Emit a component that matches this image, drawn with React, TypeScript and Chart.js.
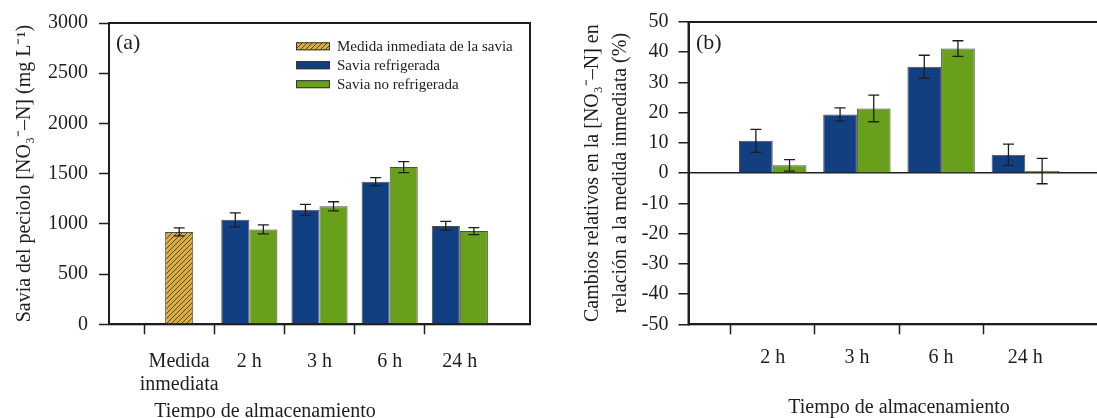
import React, { useEffect, useRef } from 'react';
import { Chart, registerables } from 'chart.js';

Chart.register(...registerables);

// ---------- Data: panel (a) ----------
const categoriesA: (string | string[])[] = [['Medida', 'inmediata'], '2 h', '3 h', '6 h', '24 h'];
const immediateValue = [920];
const immediateErr = [40];
const refrigerated = [1040, 1140, 1420, 980];
const refrigeratedErr = [70, 55, 40, 45];
const nonRefrigerated = [945, 1175, 1565, 928];
const nonRefrigeratedErr = [45, 45, 55, 35];
const yTicksA = [0, 500, 1000, 1500, 2000, 2500, 3000];

// ---------- Data: panel (b) ----------
const categoriesB = ['2 h', '3 h', '6 h', '24 h'];
const changeRefrigerated = [10.7, 19.4, 35.2, 6.1];
const changeRefrigeratedErr = [3.8, 2.2, 3.8, 3.5];
const changeNonRefrigerated = [2.6, 21.4, 41.2, 0.7];
const changeNonRefrigeratedErr = [1.9, 4.4, 2.6, 4.2];
const yTicksB = [-50, -40, -30, -20, -10, 0, 10, 20, 30, 40, 50];

const legendLabels = ['Medida inmediata de la savia', 'Savia refrigerada', 'Savia no refrigerada'];
const xTitle = 'Tiempo de almacenamiento';
const yTitleA = 'Savia del peciolo [NO\u2083\u207B\u2013N] (mg L\u207B\u00B9)';
const yTitleB = ['Cambios relativos en la [NO\u2083\u207B\u2013N] en', 'relación a la medida inmediata (%)'];

// ---------- Styles ----------
const FONT = '"Liberation Serif", "Times New Roman", serif';
const INK = '#1e1e1e';
const BLUE = '#113f82';
const GREEN = '#68a01c';
const GOLD = '#d8ae42';
const BAR_BORDER = '#4d4d4d';

Chart.defaults.font.family = FONT;
Chart.defaults.color = INK;

function makeHatch(): CanvasPattern | string {
  const c = document.createElement('canvas');
  const s = 5;
  c.width = s;
  c.height = s;
  const g = c.getContext('2d');
  if (!g) return GOLD;
  g.fillStyle = GOLD;
  g.fillRect(0, 0, s, s);
  g.strokeStyle = '#5b4716';
  g.lineWidth = 1;
  g.beginPath();
  g.moveTo(-1, s + 1);
  g.lineTo(s + 1, -1);
  g.moveTo(-1, 1);
  g.lineTo(1, -1);
  g.moveTo(s - 1, s + 1);
  g.lineTo(s + 1, s - 1);
  g.stroke();
  const p = g.createPattern(c, 'repeat');
  return p || GOLD;
}

const pad = <T,>(arr: T[], before: number, total: number): (T | null)[] => {
  const out: (T | null)[] = [];
  for (let i = 0; i < total; i++) {
    const k = i - before;
    out.push(k >= 0 && k < arr.length ? arr[k] : null);
  }
  return out;
};

const plainTick = (v: any) => String(v);

const errorBarsPlugin = {
  id: 'errorBars',
  afterDatasetsDraw(chart: any) {
    const ctx = chart.ctx;
    const yScale = chart.scales.y;
    chart.data.datasets.forEach((ds: any, di: number) => {
      const meta = chart.getDatasetMeta(di);
      meta.data.forEach((el: any, i: number) => {
        const v = ds.data[i];
        const e = ds.errors ? ds.errors[i] : null;
        if (v == null || e == null) return;
        const x = el.x;
        const yt = yScale.getPixelForValue(v + e);
        const yb = yScale.getPixelForValue(v - e);
        ctx.save();
        ctx.strokeStyle = INK;
        ctx.lineWidth = 1.3;
        ctx.beginPath();
        ctx.moveTo(x, yt);
        ctx.lineTo(x, yb);
        ctx.moveTo(x - 5.5, yt);
        ctx.lineTo(x + 5.5, yt);
        ctx.moveTo(x - 5.5, yb);
        ctx.lineTo(x + 5.5, yb);
        ctx.stroke();
        ctx.restore();
      });
    });
  },
};

const framePlugin = {
  id: 'frame',
  afterDraw(chart: any) {
    const { ctx, chartArea } = chart;
    ctx.save();
    ctx.strokeStyle = INK;
    ctx.lineWidth = 2;
    ctx.strokeRect(chartArea.left, chartArea.top, chartArea.right - chartArea.left, chartArea.bottom - chartArea.top);
    ctx.restore();
  },
};

const panelLabel = (text: string, dx: number, dy: number) => ({
  id: 'panelLabel',
  afterDraw(chart: any) {
    const { ctx, chartArea } = chart;
    ctx.save();
    ctx.font = `22px ${FONT}`;
    ctx.fillStyle = INK;
    ctx.textAlign = 'left';
    ctx.textBaseline = 'middle';
    ctx.fillText(text, chartArea.left + dx, chartArea.top + dy);
    ctx.restore();
  },
});

const legendPlugin = {
  id: 'insideLegend',
  afterDraw(chart: any) {
    const { ctx, chartArea } = chart;
    const x0 = chartArea.left + 187;
    const rows = [23.3, 42.2, 61.2];
    ctx.save();
    chart.data.datasets.forEach((ds: any, i: number) => {
      const yc = chartArea.top + rows[i];
      ctx.fillStyle = ds.backgroundColor;
      ctx.fillRect(x0, yc - 4, 34, 8);
      ctx.strokeStyle = '#333';
      ctx.lineWidth = 1;
      ctx.strokeRect(x0 + 0.5, yc - 4 + 0.5, 33, 7);
      ctx.fillStyle = INK;
      ctx.font = `15px ${FONT}`;
      ctx.textAlign = 'left';
      ctx.textBaseline = 'middle';
      ctx.fillText(ds.label, x0 + 41, yc + 0.5);
    });
    ctx.restore();
  },
};

function configA(): any {
  const n = categoriesA.length + 2;
  const labels = ['', ...categoriesA, ''];
  const hatch = makeHatch();
  return {
    type: 'bar',
    data: {
      labels,
      datasets: [
        {
          label: legendLabels[0],
          data: pad(immediateValue, 1, n),
          errors: pad(immediateErr, 1, n),
          backgroundColor: hatch,
          borderColor: BAR_BORDER,
          borderWidth: 1,
          grouped: false,
          categoryPercentage: 0.8,
          barPercentage: 0.5,
        },
        {
          label: legendLabels[1],
          data: pad(refrigerated, 2, n),
          errors: pad(refrigeratedErr, 2, n),
          backgroundColor: BLUE,
          borderColor: BAR_BORDER,
          borderWidth: 1,
          categoryPercentage: 0.8,
          barPercentage: 1,
        },
        {
          label: legendLabels[2],
          data: pad(nonRefrigerated, 2, n),
          errors: pad(nonRefrigeratedErr, 2, n),
          backgroundColor: GREEN,
          borderColor: BAR_BORDER,
          borderWidth: 1,
          categoryPercentage: 0.8,
          barPercentage: 1,
        },
      ],
    },
    options: {
      responsive: false,
      animation: false,
      devicePixelRatio: 1,
      layout: { padding: { top: 20, left: 0, right: 130, bottom: 0 } },
      plugins: {
        legend: { display: false },
        tooltip: { enabled: false },
        title: {
          display: true,
          text: xTitle,
          position: 'bottom',
          font: { size: 20, lineHeight: 1.2, weight: 'normal' },
          color: INK,
          padding: { top: 0, bottom: 6.5 },
        },
      },
      scales: {
        x: {
          type: 'category',
          offset: false,
          grid: {
            drawOnChartArea: false,
            drawTicks: true,
            tickLength: 10,
            tickWidth: 1.5,
            tickColor: (c: any) => (c.index === 0 || c.index === n - 1 ? 'rgba(0,0,0,0)' : INK),
          },
          border: { display: true, color: INK, width: 2 },
          ticks: {
            autoSkip: false,
            maxRotation: 0,
            minRotation: 0,
            padding: 16.5,
            color: INK,
            font: { size: 20, lineHeight: 1.13 },
          },
          afterFit: (s: any) => {
            s.height = 75.2;
          },
        },
        y: {
          min: yTicksA[0],
          max: yTicksA[yTicksA.length - 1],
          afterBuildTicks: (s: any) => {
            s.ticks = yTicksA.map((v) => ({ value: v }));
          },
          grid: {
            drawOnChartArea: false,
            drawTicks: true,
            tickLength: 10,
            tickWidth: 1.5,
            tickColor: INK,
          },
          border: { display: true, color: INK, width: 2 },
          ticks: { padding: 11, color: INK, font: { size: 20 }, callback: plainTick },
          title: {
            display: true,
            text: yTitleA,
            color: INK,
            font: { size: 20, lineHeight: 1.2 },
            padding: { top: 12.5, bottom: 0 },
          },
          afterFit: (s: any) => {
            s.width = 109;
          },
        },
      },
    },
    plugins: [errorBarsPlugin, framePlugin, panelLabel('(a)', 7, 20), legendPlugin],
  };
}

function configB(): any {
  const n = categoriesB.length + 2;
  const labels = ['', ...categoriesB, ''];
  return {
    type: 'bar',
    data: {
      labels,
      datasets: [
        {
          label: legendLabels[1],
          data: pad(changeRefrigerated, 1, n),
          errors: pad(changeRefrigeratedErr, 1, n),
          backgroundColor: BLUE,
          borderColor: BAR_BORDER,
          borderWidth: 1,
          categoryPercentage: 0.8,
          barPercentage: 1,
        },
        {
          label: legendLabels[2],
          data: pad(changeNonRefrigerated, 1, n),
          errors: pad(changeNonRefrigeratedErr, 1, n),
          backgroundColor: GREEN,
          borderColor: BAR_BORDER,
          borderWidth: 1,
          categoryPercentage: 0.8,
          barPercentage: 1,
        },
      ],
    },
    options: {
      responsive: false,
      animation: false,
      devicePixelRatio: 1,
      layout: { padding: { top: 20, left: 0, right: 135.5, bottom: 0 } },
      plugins: {
        legend: { display: false },
        tooltip: { enabled: false },
      },
      scales: {
        x: {
          type: 'category',
          offset: false,
          grid: {
            drawOnChartArea: false,
            drawTicks: true,
            tickLength: 10,
            tickWidth: 1.5,
            tickColor: (c: any) => (c.index === 0 || c.index === n - 1 ? 'rgba(0,0,0,0)' : INK),
          },
          border: { display: true, color: INK, width: 2 },
          ticks: {
            autoSkip: false,
            maxRotation: 0,
            minRotation: 0,
            padding: 12,
            color: INK,
            font: { size: 20, lineHeight: 1.15 },
          },
          title: {
            display: true,
            text: xTitle,
            color: INK,
            font: { size: 20, lineHeight: 1.2 },
            padding: { top: 0, bottom: 10 },
          },
          afterFit: (s: any) => {
            s.height = 105.7;
          },
        },
        y: {
          min: yTicksB[0],
          max: yTicksB[yTicksB.length - 1],
          afterBuildTicks: (s: any) => {
            s.ticks = yTicksB.map((v) => ({ value: v }));
          },
          grid: {
            drawOnChartArea: true,
            color: (c: any) => (c.tick && c.tick.value === 0 ? INK : 'rgba(0,0,0,0)'),
            lineWidth: 1.5,
            drawTicks: true,
            tickLength: 10,
            tickWidth: 1.5,
            tickColor: INK,
          },
          border: { display: true, color: INK, width: 2 },
          ticks: { padding: 10, color: INK, font: { size: 20 }, callback: plainTick },
          title: {
            display: true,
            text: yTitleB,
            color: INK,
            font: { size: 20, lineHeight: 1.4 },
            padding: { top: 34, bottom: 0 },
          },
          afterFit: (s: any) => {
            s.width = 143.5;
          },
        },
      },
    },
    plugins: [errorBarsPlugin, framePlugin, panelLabel('(b)', 7.5, 21)],
  };
}

export default function App() {
  const refA = useRef<HTMLCanvasElement>(null);
  const refB = useRef<HTMLCanvasElement>(null);

  useEffect(() => {
    if (!refA.current || !refB.current) return;
    const chartA = new Chart(refA.current, configA());
    const chartB = new Chart(refB.current, configB());
    return () => {
      chartA.destroy();
      chartB.destroy();
    };
  }, []);

  return (
    <div
      style={{
        position: 'fixed',
        left: 0,
        top: 0,
        width: 1097,
        height: 418,
        overflow: 'hidden',
        background: '#fff',
      }}
    >
      <canvas
        ref={refA}
        width={660}
        height={430}
        style={{ position: 'absolute', left: 0, top: 0, width: 660, height: 430 }}
      />
      <canvas
        ref={refB}
        width={700}
        height={430}
        style={{ position: 'absolute', left: 545, top: 0, width: 700, height: 430 }}
      />
    </div>
  );
}
